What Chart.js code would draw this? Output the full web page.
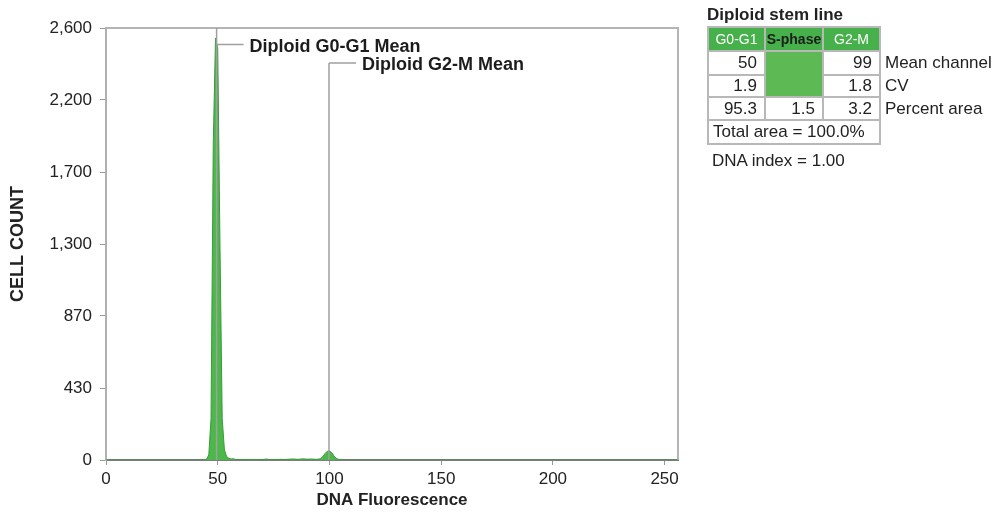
<!DOCTYPE html>
<html>
<head>
<meta charset="utf-8">
<script src="https://cdn.jsdelivr.net/npm/chart.js@4.4.1/dist/chart.umd.min.js"></script>
<style>
  body { margin: 0; background: #fff; }
  #wrap { position: relative; width: 995px; height: 513px; font-family: 'Liberation Sans', Arial, sans-serif; }
  #chart { position: absolute; left: 0; top: 0; }
  #panel { position: absolute; left: 707px; top: 5px; color: #222; }
  #panel .ttl { font-weight: bold; font-size: 17px; line-height: 20px; height: 21px; }
  #panel table { border-collapse: collapse; table-layout: fixed; font-size: 17px; }
  #panel td { border: 2px solid #b8b8b8; padding: 0 7px 0 0; text-align: right; line-height: 18px; }
  #panel tr.head td { background: #46b04a; color: #fff; font-size: 14px; text-align: center; padding: 0; }
  #panel tr.head td.sp { color: #1c1c1c; font-weight: bold; }
  #panel td.lab, #panel tr.head td.lab { border: none; background: none; text-align: left; padding: 0 0 0 4px; white-space: nowrap; }
  #panel td.green { background: #5cb954; }
  #panel td.total { text-align: left; padding-left: 4px; }
  #panel .idx { font-size: 17px; margin-top: 6px; padding-left: 5px; }
</style>
</head>
<body>
<div id="wrap">
  <canvas id="chart" width="995" height="513"></canvas>
  <div id="panel">
    <div class="ttl">Diploid stem line</div>
    <table>
      <colgroup><col style="width:57px"><col style="width:58px"><col style="width:57px"><col></colgroup>
      <tr class="head" style="height:24px"><td>G0-G1</td><td class="sp">S-phase</td><td>G2-M</td><td class="lab"></td></tr>
      <tr style="height:24px"><td>50</td><td class="green" rowspan="2"></td><td>99</td><td class="lab">Mean channel</td></tr>
      <tr style="height:22px"><td>1.9</td><td>1.8</td><td class="lab">CV</td></tr>
      <tr style="height:23px"><td>95.3</td><td>1.5</td><td>3.2</td><td class="lab">Percent area</td></tr>
      <tr style="height:24px"><td class="total" colspan="3">Total area = 100.0%</td><td class="lab"></td></tr>
    </table>
    <div class="idx">DNA index = 1.00</div>
  </div>
</div>
<script>
// histogram (channel -> cell count)
const channels = [0, 44, 45, 46, 47, 48, 49, 50, 51, 52, 53, 54, 55, 56, 57, 58, 60, 62, 65, 68, 70, 72, 73, 75, 78, 80, 82, 84, 86, 88, 90, 92, 94, 95, 96, 97, 98, 99, 100, 101, 102, 103, 104, 105, 106, 256];
const counts   = [0, 0, 5, 30, 250, 1900, 2540, 2480, 1300, 250, 60, 20, 10, 6, 8, 3, 2, 3, 2, 1, 3, 6, 2, 2, 4, 3, 5, 6, 4, 7, 5, 6, 4, 5, 8, 20, 38, 52, 55, 45, 25, 10, 4, 1, 0, 0];

const xTicks = [0, 50, 100, 150, 200, 250];
const yTicks = [0, 433.33, 866.67, 1300, 1733.33, 2166.67, 2600];
const yTickLabels = ['0', '430', '870', '1,300', '1,700', '2,200', '2,600'];

// mean markers
const markerChannels = [49.5, 99.8];
const markerTops = [2600, 2390];
const markerLevels = [2500, 2390];
const markerLabels = ['Diploid G0-G1 Mean', 'Diploid G2-M Mean'];

const FONT = "'Liberation Sans', Arial, sans-serif";

const points = channels.map((c, i) => ({ x: c, y: counts[i] }));

// box around the plot + mean markers
const markers = {
    id: 'markers',
    beforeDatasetsDraw(chart) {
        const { ctx, chartArea: a } = chart;
        ctx.save();
        ctx.strokeStyle = '#b4b4b4';
        ctx.lineWidth = 2;
        ctx.beginPath();
        ctx.moveTo(a.left, a.top);
        ctx.lineTo(a.right, a.top);
        ctx.lineTo(a.right, a.bottom);
        ctx.stroke();
        ctx.restore();
    },
    afterDatasetsDraw(chart) {
        const { ctx, scales: { x, y } } = chart;
        ctx.save();
        ctx.strokeStyle = '#a0a0a0';
        ctx.lineWidth = 1.5;
        ctx.fillStyle = '#1c1c1c';
        ctx.font = 'bold 18px ' + FONT;
        ctx.textBaseline = 'middle';
        markerChannels.forEach((c, i) => {
            const px = x.getPixelForValue(c);
            const top = y.getPixelForValue(markerTops[i]);
            const lv = y.getPixelForValue(markerLevels[i]);
            ctx.beginPath();
            ctx.moveTo(px, top);
            ctx.lineTo(px, y.getPixelForValue(0));
            ctx.moveTo(px, lv);
            ctx.lineTo(px + 27, lv);
            ctx.stroke();
            ctx.fillText(markerLabels[i], px + 33, lv + 2);
        });
        ctx.restore();
    }
};

new Chart(document.getElementById('chart'), {
    type: 'line',
    data: {
        datasets: [{
            data: points,
            fill: 'origin',
            backgroundColor: '#4cb84a',
            borderColor: '#3a9a3c',
            borderWidth: 1,
            pointRadius: 0,
            tension: 0,
        }],
    },
    options: {
        responsive: false,
        animation: false,
        devicePixelRatio: 1,
        layout: { padding: { left: 0, top: 28, right: 317, bottom: 0 } },
        plugins: { legend: { display: false }, tooltip: { enabled: false } },
        scales: {
            x: {
                type: 'linear',
                min: 0,
                max: 256,
                afterBuildTicks: axis => { axis.ticks = xTicks.map(v => ({ value: v })); },
                afterFit: axis => { axis.height = 53; },
                grid: { drawOnChartArea: false, tickLength: 5, color: '#999' },
                border: { color: '#7c7c7c', width: 2 },
                ticks: { color: '#222', font: { family: FONT, size: 17 }, padding: 4, maxRotation: 0 },
                title: { display: true, text: 'DNA Fluorescence', color: '#222', font: { family: FONT, size: 17, weight: 'bold' }, padding: { top: 0, bottom: 2 } },
            },
            y: {
                min: 0,
                max: 2600,
                afterBuildTicks: axis => { axis.ticks = yTicks.map(v => ({ value: v })); },
                afterFit: axis => { axis.width = 106; },
                grid: { drawOnChartArea: false, tickLength: 6, color: '#999' },
                border: { color: '#b0b0b0', width: 2 },
                ticks: {
                    color: '#222',
                    font: { family: FONT, size: 17 },
                    padding: 8,
                    callback: (v, i) => yTickLabels[i],
                },
                title: { display: true, text: 'CELL COUNT', color: '#222', font: { family: FONT, size: 18, weight: 'bold' }, padding: { top: 7, bottom: 0 } },
            },
        },
    },
    plugins: [markers],
});
</script>
</body>
</html>
